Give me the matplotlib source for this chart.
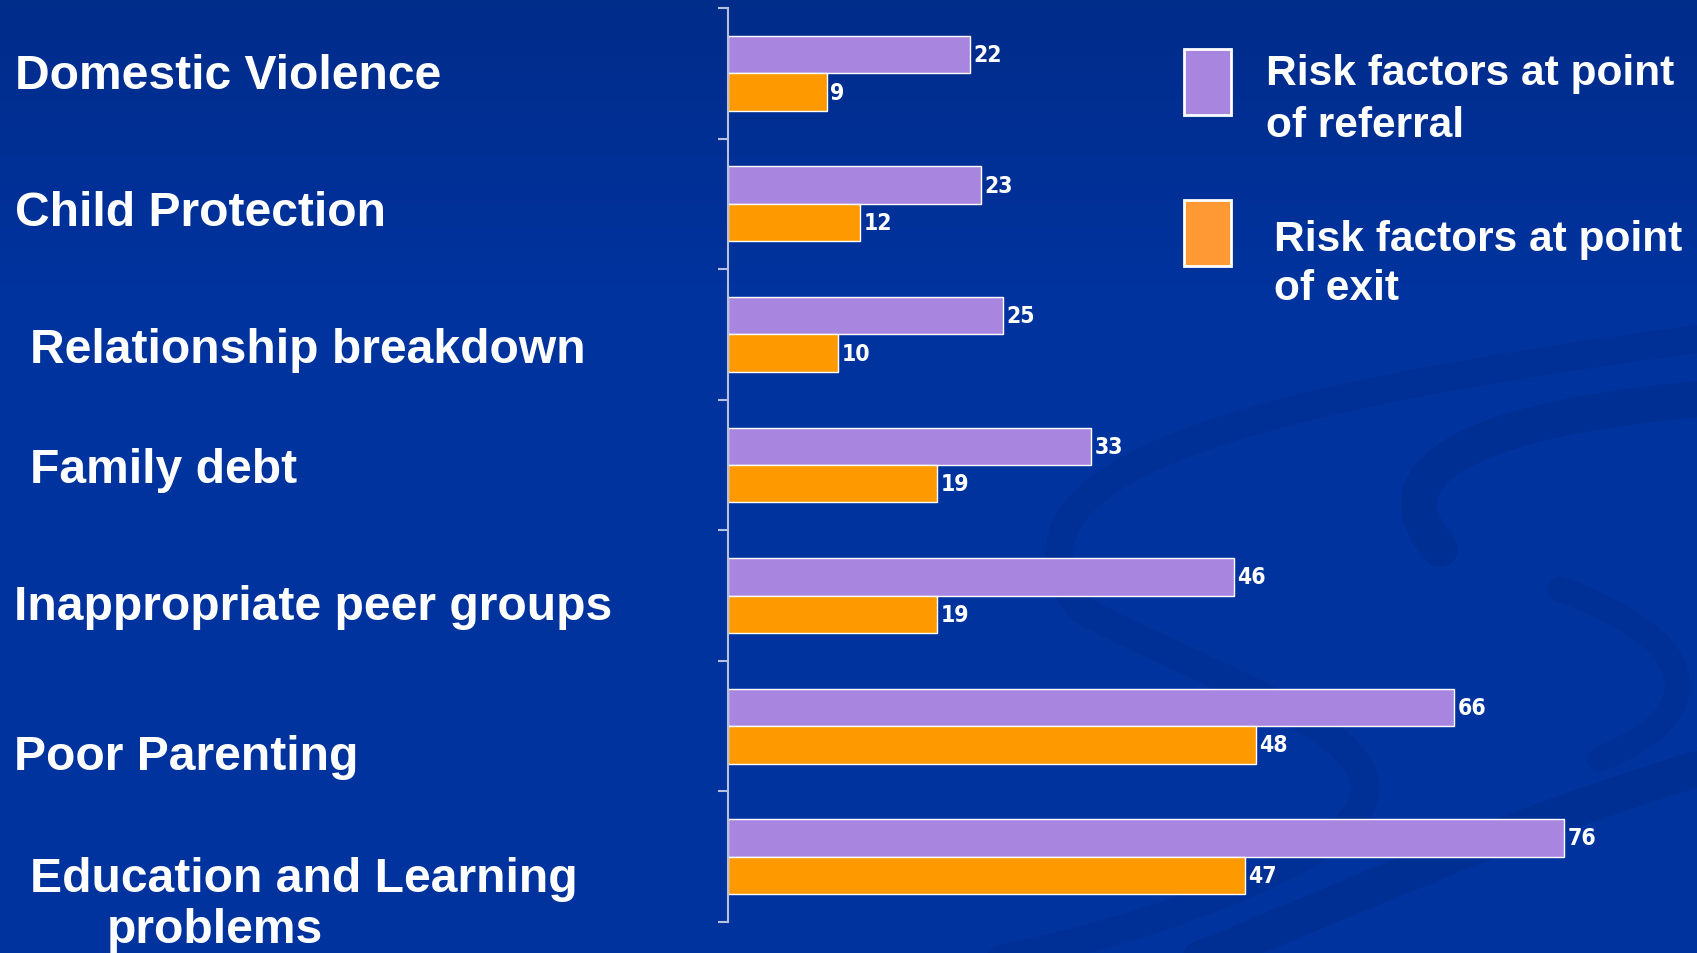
import numpy as np
import matplotlib
matplotlib.use("Agg")
import matplotlib.pyplot as plt
from matplotlib.path import Path
from matplotlib.patches import PathPatch, Rectangle

# ---------------- data ----------------
categories = ["Domestic Violence", "Child Protection", "Relationship breakdown",
              "Family debt", "Inappropriate peer groups", "Poor Parenting",
              "Education and Learning\nproblems"]
referral = [22, 23, 25, 33, 46, 66, 76]
exit_vals = [9, 12, 10, 19, 19, 48, 47]
series_names = ["Risk factors at point\nof referral", "Risk factors at point\nof exit"]

# ---------------- style ----------------
W, H = 1697, 954
BG = (0/255, 51/255, 158/255)
SWIRL = (0/255, 38/255, 125/255)
PURPLE = "#A886E0"
ORANGE = "#FF9900"
ORANGE_LEG = "#FF9933"
SPINE = "#B8C0DC"

fig = plt.figure(figsize=(W/100, H/100), dpi=100)

# background gradient + swirls (in pixel coords)
bg = fig.add_axes([0, 0, 1, 1], zorder=-10)
bg.set_xlim(0, W)
bg.set_ylim(H, 0)
bg.axis("off")
top_c = np.array([0/255, 44/255, 138/255])
yy = np.linspace(0, 1, 200)
t = np.clip(yy / 0.3, 0, 1)[:, None]
grad = top_c[None, :] * (1 - t) + np.array(BG)[None, :] * t
bg.imshow(grad[:, None, :], extent=[0, W, H, 0], aspect="auto", zorder=0)

def swirl(pts, lw, alpha):
    codes = [Path.MOVETO] + [Path.CURVE4] * (len(pts) - 1)
    bg.add_patch(PathPatch(Path(pts, codes), fill=False, lw=lw,
                           edgecolor=SWIRL, alpha=alpha, capstyle="round", zorder=1))

swirl([(1697, 400), (1480, 420), (1370, 470), (1440, 550)], 26, 0.28)
swirl([(1697, 340), (1250, 400), (980, 470), (1080, 610),
       (1250, 700), (1480, 760), (1300, 860),
       (1200, 910), (1100, 940), (1000, 960)], 20, 0.25)
swirl([(1697, 770), (1500, 830), (1350, 900), (1200, 960)], 26, 0.28)
swirl([(1560, 590), (1720, 650), (1700, 720), (1600, 760)], 18, 0.25)

# ---------------- bar chart ----------------
ax_left = 728 / W
ax_bottom = 1 - 923 / H
ax_top = 1 - 9 / H
ax = fig.add_axes([ax_left, ax_bottom, 1 - ax_left, ax_top - ax_bottom])
ax.set_facecolor("none")
px_per_unit = 11.0
ax.set_xlim(0, (W - 728) / px_per_unit)
n = len(categories)
ax.set_ylim(n - 0.5, -0.5)

pos = np.arange(n)
bh = 0.287
b1 = ax.barh(pos - bh / 2, referral, height=bh, color=PURPLE,
             edgecolor="white", linewidth=1.0)
b2 = ax.barh(pos + bh / 2, exit_vals, height=bh, color=ORANGE,
             edgecolor="white", linewidth=1.0)

lab_font = dict(family=["DejaVu Sans"], fontstretch="condensed",
                fontweight="bold", fontsize=16.5, color="white")
for bars in (b1, b2):
    ax.bar_label(bars, padding=2.5, **lab_font)

for s in ("top", "right", "bottom"):
    ax.spines[s].set_visible(False)
ax.spines["left"].set_color(SPINE)
ax.spines["left"].set_linewidth(1.5)
ax.set_yticks(np.arange(-0.5, n, 1.0))
ax.set_yticklabels([])
ax.tick_params(axis="y", direction="out", length=7.5, width=1.5, color=SPINE)
ax.set_xticks([])

# ---------------- category labels (left) ----------------
cat_font = dict(family=["Liberation Sans", "DejaVu Sans"], fontweight="bold",
                fontsize=34.6, color="white")
# (x, baseline) in pixels for each line
label_pos = [[(15, 89)], [(15, 226)], [(30, 363)], [(30, 483)], [(14, 620)],
             [(14, 770)], [(30, 892), (107, 943)]]
for name, lines_pos in zip(categories, label_pos):
    for line, (x, yb) in zip(name.split("\n"), lines_pos):
        fig.text(x / W, 1 - yb / H, line, ha="left", va="baseline", **cat_font)

# ---------------- legend (manual) ----------------
leg_font = dict(family=["Liberation Sans", "DejaVu Sans"], fontweight="bold",
                fontsize=30.6, color="white")
leg_items = [
    (PURPLE, (1184, 50, 47, 66), [(1266, 85), (1266, 137)]),
    (ORANGE_LEG, (1184, 201, 47, 66), [(1274, 251), (1274, 300)]),
]
for (col, (x, y, w, h), tpos), name in zip(leg_items, series_names):
    fig.add_artist(Rectangle((x / W, 1 - (y + h) / H), w / W, h / H,
                             transform=fig.transFigure, facecolor=col,
                             edgecolor="white", linewidth=2))
    for line, (tx, ty) in zip(name.split("\n"), tpos):
        fig.text(tx / W, 1 - ty / H, line, ha="left", va="baseline", **leg_font)

fig.savefig("out.png", dpi=100, facecolor=BG)
